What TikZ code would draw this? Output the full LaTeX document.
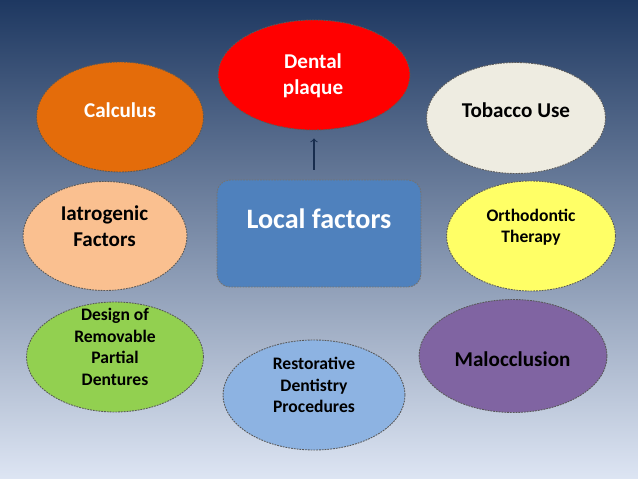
\documentclass[tikz,border=0pt]{standalone}
\usepackage{fontspec}
\setmainfont{Carlito}
\usepackage{xcolor}
\usepackage{tikz}
\usetikzlibrary{shapes,arrows,positioning,fit,calc}

\definecolor{bgtop}{HTML}{1E3861}
\definecolor{bgmid}{HTML}{AFBFD8}
\definecolor{bgbot}{HTML}{DDE5F3}
\definecolor{plaquered}{HTML}{FF0000}
\definecolor{calcorange}{HTML}{E46C0A}
\definecolor{tobcream}{HTML}{EEECE1}
\definecolor{iatpeach}{HTML}{FAC090}
\definecolor{orthoyellow}{HTML}{FFFF66}
\definecolor{rpdgreen}{HTML}{92D050}
\definecolor{restblue}{HTML}{8DB3E2}
\definecolor{malpurple}{HTML}{8064A2}
\definecolor{localblue}{HTML}{4F81BD}

\begin{document}
\begin{tikzpicture}[
    x=0.02cm, y=-0.02cm,
    factor/.style = {ellipse, inner sep=0pt, draw=black!65, line width=0.5pt,
                     dash pattern=on 1pt off 0.6pt},
    txt/.style = {align=center, font=\bfseries\fontsize{12}{14.6}\selectfont, inner sep=0pt},
    smalltxt/.style = {align=center, font=\bfseries\fontsize{10}{12.2}\selectfont, inner sep=0pt}
  ]
  \shade[top color=bgtop, middle color=bgmid, bottom color=bgbot] (0,0) rectangle (638,479);
  \useasboundingbox (0,0) rectangle (638,479);

  % the factors
  \node[factor, fill=plaquered, minimum width=3.84cm, minimum height=2.2cm] (plaque) at (314,75) {};
  \node[factor, fill=calcorange, minimum width=3.34cm, minimum height=2.2cm] (calculus) at (120,117) {};
  \node[factor, fill=tobcream, minimum width=3.58cm, minimum height=2.22cm] (tobacco) at (516,118) {};
  \node[factor, fill=iatpeach, minimum width=3.28cm, minimum height=2.18cm] (iatrogenic) at (105,236) {};
  \node[factor, fill=orthoyellow, minimum width=3.38cm, minimum height=2.2cm] (ortho) at (531,236) {};
  \node[factor, fill=rpdgreen, minimum width=3.54cm, minimum height=2.2cm] (rpd) at (115,357) {};
  \node[factor, fill=restblue, minimum width=3.64cm, minimum height=2.2cm] (restorative) at (314,395) {};
  \node[factor, fill=malpurple, minimum width=3.76cm, minimum height=2.26cm] (malocclusion) at (513,356) {};
  \node[rectangle, rounded corners=0.26cm, inner sep=0pt, fill=localblue, draw=black!55,
        line width=0.5pt, dash pattern=on 1pt off 0.6pt,
        minimum width=4.08cm, minimum height=2.14cm] (local) at (319,233.5) {};

  % labels
  \node[txt, text=white] (plaquetxt) at (313,76) {Dental\\plaque};
  \node[txt, text=white] (calculustxt) at (120,110) {Calculus};
  \node[txt] (tobaccotxt) at (516,110) {Tobacco Use};
  \node[txt] (iatrogenictxt) at (104.5,226) {Iatrogenic\\Factors};
  \node[smalltxt] (orthotxt) at (531,227) {Orthodontic\\Therapy};
  \node[smalltxt] (rpdtxt) at (115,347) {Design of\\Removable\\Partial\\Dentures};
  \node[smalltxt] (restorativetxt) at (314,385) {Restorative\\Dentistry\\Procedures};
  \node[txt] (malocclusiontxt) at (512.5,359) {Malocclusion};
  \node[align=center, font=\bfseries\fontsize{16}{19.5}\selectfont, text=white, inner sep=0pt]
    (localtxt) at (319,219) {Local factors};

  \draw[->, line width=0.6pt, color=bgtop!80!black, shorten <=0.2cm, shorten >=0.16cm]
    (plaque.south |- local.north) -- (plaque.south);
\end{tikzpicture}
\end{document}
